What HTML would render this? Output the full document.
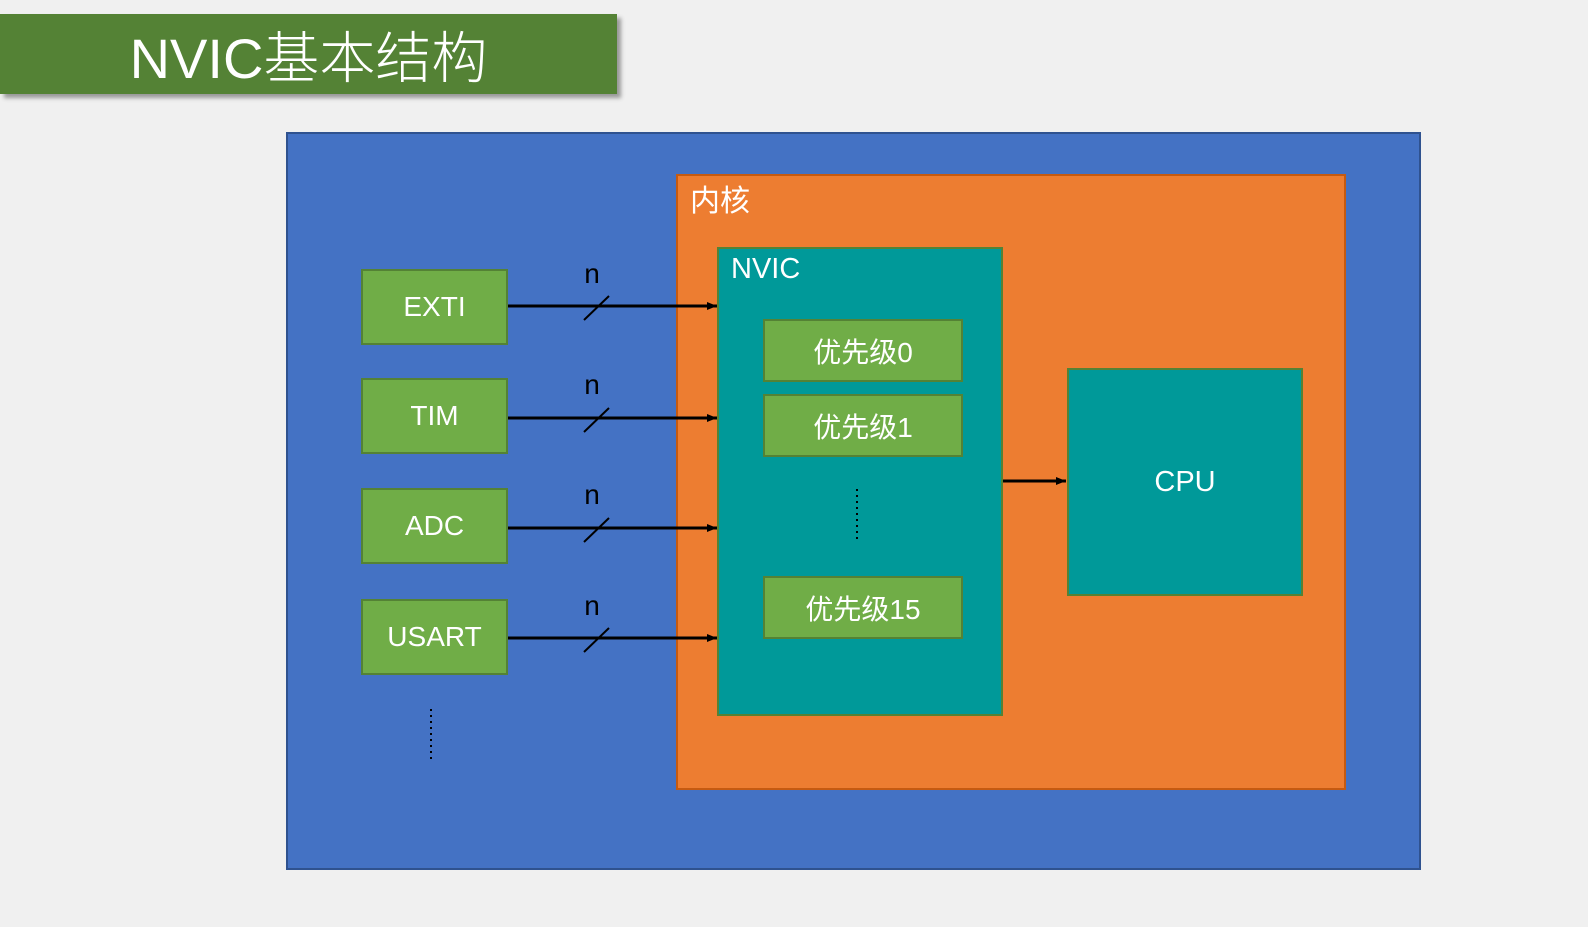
<!DOCTYPE html>
<html><head><meta charset="utf-8"><style>
body{margin:0;width:1588px;height:927px;background:#f0f0f0;position:relative;overflow:hidden;font-family:"Liberation Sans","Noto Sans CJK SC",sans-serif;}
.a{position:absolute;box-sizing:border-box;}
.g{background:#70ad47;border:2px solid #548235;color:#fff;display:flex;align-items:center;justify-content:center;font-size:28px;}
.t{position:absolute;color:#fff;}
</style></head><body>
<div class="a" style="left:0;top:14px;width:617px;height:80px;background:#548235;box-shadow:4px 4px 4px #999;color:#fff;font-size:56px;display:flex;align-items:center;justify-content:center;font-family:'Liberation Sans','Noto Sans CJK SC',sans-serif;font-weight:300">NVIC基本结构</div>
<div class="a" style="left:286px;top:132px;width:1135px;height:738px;background:#4472c4;border:2px solid #2f528f"></div>
<div class="a" style="left:676px;top:174px;width:670px;height:616px;background:#ed7d31;border:2px solid #c55a11"></div>
<div class="t" style="left:690px;top:176px;font-size:30px">内核</div>
<div class="a" style="left:717px;top:247px;width:286px;height:469px;background:#009999;border:2px solid #548235"></div>
<div class="t" style="left:731px;top:253px;font-size:29px">NVIC</div>
<div class="a" style="left:1067px;top:368px;width:236px;height:228px;background:#009999;border:2px solid #548235;color:#fff;font-size:29px;display:flex;align-items:center;justify-content:center">CPU</div>
<div class="a g" style="left:763px;top:319px;width:200px;height:63px">优先级0</div>
<div class="a g" style="left:763px;top:394px;width:200px;height:63px">优先级1</div>
<div class="a g" style="left:763px;top:576px;width:200px;height:63px">优先级15</div>
<div class="a g" style="left:361px;top:269px;width:147px;height:76px">EXTI</div>
<div class="a g" style="left:361px;top:378px;width:147px;height:76px">TIM</div>
<div class="a g" style="left:361px;top:488px;width:147px;height:76px">ADC</div>
<div class="a g" style="left:361px;top:599px;width:147px;height:76px">USART</div>
<svg class="a" style="left:0;top:0" width="1588" height="927">
<defs><marker id="m" markerWidth="10" markerHeight="8" refX="10" refY="4" orient="auto" markerUnits="userSpaceOnUse"><path d="M0,0L10,4L0,8z" fill="#000"/></marker></defs>
<g stroke="#000" stroke-width="3" fill="none">
<line x1="508" y1="306" x2="717" y2="306" marker-end="url(#m)"/>
<line x1="508" y1="418" x2="717" y2="418" marker-end="url(#m)"/>
<line x1="508" y1="528" x2="717" y2="528" marker-end="url(#m)"/>
<line x1="508" y1="638" x2="717" y2="638" marker-end="url(#m)"/>
<line x1="1003" y1="481" x2="1066" y2="481" marker-end="url(#m)"/>
</g>
<g stroke="#000" stroke-width="2">
<line x1="584" y1="320" x2="609" y2="296"/>
<line x1="584" y1="432" x2="609" y2="408"/>
<line x1="584" y1="542" x2="609" y2="518"/>
<line x1="584" y1="652" x2="609" y2="628"/>
<line x1="857" y1="489" x2="857" y2="543" stroke-dasharray="2 4"/>
<line x1="431" y1="709" x2="431" y2="761" stroke-dasharray="2 4"/>
</g>
<g font-family="Liberation Sans, sans-serif" font-size="28" fill="#000" text-anchor="middle">
<text x="592" y="283">n</text><text x="592" y="394">n</text><text x="592" y="504">n</text><text x="592" y="615">n</text>
</g>
</svg>
</body></html>
